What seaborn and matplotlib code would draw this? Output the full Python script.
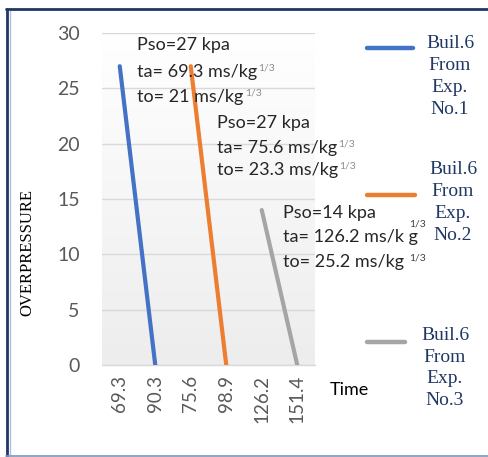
import matplotlib
matplotlib.use("Agg")
import matplotlib.pyplot as plt
from matplotlib.lines import Line2D
import numpy as np
import pandas as pd
import seaborn as sns

# ---- data ----
times = ["69.3", "90.3", "75.6", "98.9", "126.2", "151.4"]
series_names = ["Buil.6\nFrom\nExp.\nNo.1", "Buil.6\nFrom\nExp.\nNo.2", "Buil.6\nFrom\nExp.\nNo.3"]
exp1_time = ["69.3", "90.3"]
exp1_pressure = [27, 0]
exp2_time = ["75.6", "98.9"]
exp2_pressure = [27, 0]
exp3_time = ["126.2", "151.4"]
exp3_pressure = [14, 0]
colors = ["#4472C4", "#ED7D31", "#A5A5A5"]
y_ticks = [0, 5, 10, 15, 20, 25, 30]

# annotation lines: (main text, superscript)
notes = [
    [("Pso=27 kpa", ""), ("ta= 69.3 ms/kg", "1/3"), ("to= 21 ms/kg", "1/3")],
    [("Pso=27 kpa", ""), ("ta= 75.6 ms/kg", "1/3"), ("to= 23.3 ms/kg", "1/3")],
    [("Pso=14 kpa", ""), ("ta= 126.2 ms/k g", "1/3"), ("to= 25.2 ms/kg", "1/3")],
]

df = pd.concat([
    pd.DataFrame({"Time": exp1_time, "Overpressure": exp1_pressure, "Series": series_names[0]}),
    pd.DataFrame({"Time": exp2_time, "Overpressure": exp2_pressure, "Series": series_names[1]}),
    pd.DataFrame({"Time": exp3_time, "Overpressure": exp3_pressure, "Series": series_names[2]}),
], ignore_index=True)

# ---- style ----
sns.set_style("white")
plt.rcParams["font.family"] = ["Lato", "DejaVu Sans"]

W, H = 489, 457
fig = plt.figure(figsize=(W / 100, H / 100), dpi=100)
fig.patch.set_facecolor("white")

def fx(px):
    return px / W

def fy(py):
    return 1 - py / H

ax = fig.add_axes([fx(102), fy(365), fx(315) - fx(102), (365 - 33) / H])

# soft vertical gradient behind the plot
grad = np.linspace(0, 1, 256).reshape(-1, 1)
ax.imshow(grad, extent=[-0.5, 5.5, 0, 30], aspect="auto", origin="upper",
          cmap=matplotlib.colors.LinearSegmentedColormap.from_list("bg", ["#ffffff", "#ededed"]),
          zorder=0, interpolation="bilinear")

sns.lineplot(data=df, x="Time", y="Overpressure", hue="Series", palette=colors,
             sort=False, errorbar=None, linewidth=3, legend=False, ax=ax, zorder=3)

ax.set_xlim(-0.5, 5.5)
ax.set_ylim(0, 30)
ax.set_xticks(range(len(times)))
ax.set_xticklabels(times, rotation=90, fontsize=13.5, color="#595959")
ax.set_xticks([0, 2, 4], minor=True)
ax.set_yticks(y_ticks)
ax.set_yticklabels([str(v) for v in y_ticks], fontsize=14, color="#595959")
ax.tick_params(axis="x", which="both", length=0, pad=7)
ax.tick_params(axis="y", length=0, pad=16)
ax.set_xlabel("")
ax.set_ylabel("")
ax.grid(axis="y", which="major", color="#d9d9d9", linewidth=1)
ax.grid(axis="x", which="minor", color="#d9d9d9", linewidth=1)
ax.grid(axis="x", which="major", visible=False)
ax.set_axisbelow(True)
for side in ["top", "right", "left"]:
    ax.spines[side].set_visible(False)
ax.spines["bottom"].set_color("#d9d9d9")
ax.spines["bottom"].set_linewidth(1)

# annotation blocks
note_pos = [(0.49, [28.9, 26.5, 24.2]), (2.73, [21.9, 19.6, 17.6]), (4.59, [13.7, 11.6, 9.3])]
sup_offsets = [
    [(0, 0), (1, -1), (1, -1)],
    [(0, 0), (1, -1), (1, -1)],
    [(0, 0), (-6, 5), (4, -1)],
]
sup_colors = ["#8c8c8c", "#8c8c8c", "#404040"]
for lines, (nx, ys), offs, scol in zip(notes, note_pos, sup_offsets, sup_colors):
    for (txt, sup), yy, (dx, dy) in zip(lines, ys, offs):
        t = ax.text(nx, yy, txt, fontsize=13, color="#262626", ha="left", va="center",
                    zorder=5, clip_on=False)
        if sup:
            ax.annotate(sup, xy=(1, 0.85), xycoords=t, xytext=(dx, dy),
                        textcoords="offset points", ha="left", va="center",
                        fontsize=7.5, color=scol, zorder=5, annotation_clip=False)

# axis titles
fig.text(fx(27), fy(252), "OVERPRESSURE", rotation=90, ha="center", va="center",
         fontsize=12, color="black", family=["Liberation Serif", "DejaVu Serif"])
fig.text(fx(330), fy(390), "Time", ha="left", va="center", fontsize=13, color="black")

# legend on the right
leg_lines = [(367, 413, 48), (367, 415, 195), (367, 405, 342)]
leg_text = [(450, 76.5), (453, 202.5), (445, 368)]
for name, col, (x0, x1, ly), (tx, ty) in zip(series_names, colors, leg_lines, leg_text):
    fig.add_artist(Line2D([fx(x0), fx(x1)], [fy(ly), fy(ly)], color=col, linewidth=3.2,
                          transform=fig.transFigure))
    fig.text(fx(tx), fy(ty), name, ha="center", va="center", multialignment="center",
             fontsize=14, color="#1f3864", linespacing=1.38,
             family=["Liberation Serif", "DejaVu Serif"])

# frame around the figure
fig.add_artist(Line2D([fx(7), fx(7)], [fy(9), fy(456)], color="#1f3864", linewidth=2,
                      transform=fig.transFigure))
fig.add_artist(Line2D([fx(9.5), fx(9.5)], [fy(10), fy(455)], color="#aebfdc", linewidth=1,
                      transform=fig.transFigure))
fig.add_artist(Line2D([fx(6), fx(489)], [fy(9), fy(9)], color="#1f3864", linewidth=2,
                      transform=fig.transFigure))
fig.add_artist(Line2D([fx(6), fx(489)], [fy(455.5), fy(455.5)], color="#7f95bd", linewidth=1.2,
                      transform=fig.transFigure))

fig.savefig("out.png", dpi=100)
